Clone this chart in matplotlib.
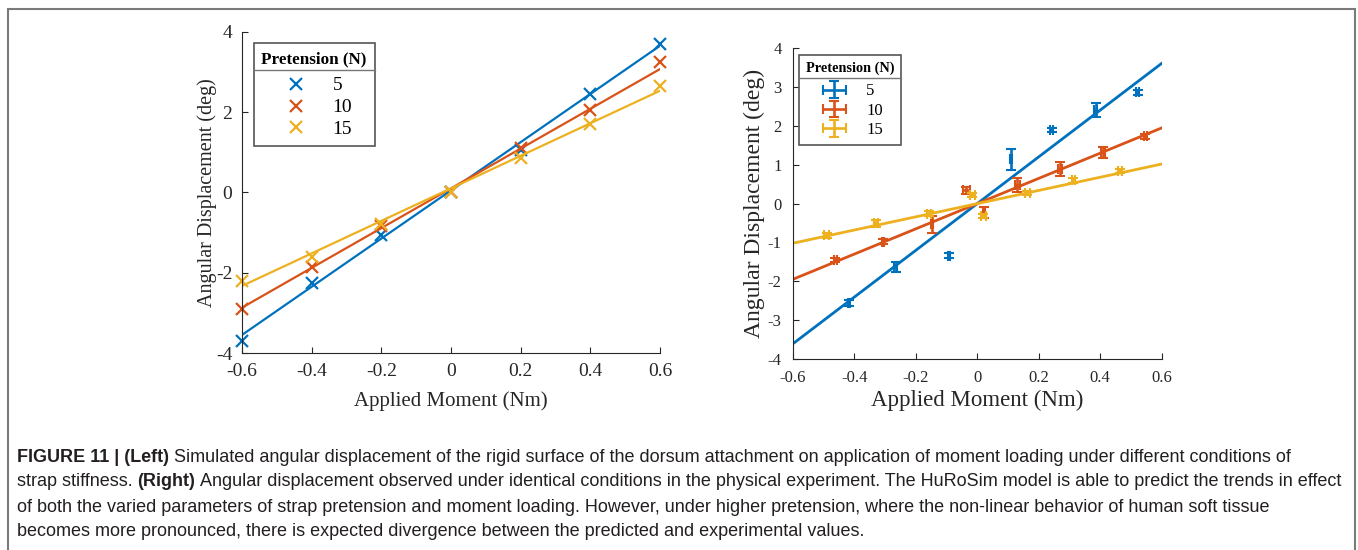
import numpy as np
import matplotlib
matplotlib.use('Agg')
import matplotlib.pyplot as plt
from matplotlib.lines import Line2D
from matplotlib.patches import Rectangle
from matplotlib.container import ErrorbarContainer
from matplotlib.legend_handler import HandlerErrorbar

# colours (MATLAB default order)
c_blue = '#0072BD'
c_red = '#D95319'
c_yel = '#EDB120'
colors = [c_blue, c_red, c_yel]
labels = ['5', '10', '15']

############## Left: simulated ################
x_sim = [-0.6, -0.4, -0.2, 0.0, 0.2, 0.4, 0.6]
y_sim_5 = [-3.7, -2.25, -1.05, 0.0, 1.05, 2.45, 3.7]
y_sim_10 = [-2.9, -1.85, -0.85, 0.0, 1.1, 2.05, 3.25]
y_sim_15 = [-2.2, -1.6, -0.8, 0.0, 0.85, 1.7, 2.65]
# fitted lines: slope, intercept
fit_sim_5 = (6.0, 0.05)
fit_sim_10 = (4.95, 0.1)
fit_sim_15 = (4.05, 0.1)

############## Right: experiment ################
x_exp_5 = [-0.417, -0.265, -0.092, 0.110, 0.242, 0.385, 0.522]
y_exp_5 = [-2.56, -1.63, -1.34, 1.14, 1.90, 2.41, 2.87]
ye_exp_5 = [0.08, 0.12, 0.07, 0.27, 0.05, 0.18, 0.06]
xe_exp_5 = [0.004, 0.004, 0.004, 0.003, 0.004, 0.004, 0.004]

x_exp_10 = [-0.461, -0.307, -0.148, -0.035, 0.023, 0.131, 0.270, 0.408, 0.546]
y_exp_10 = [-1.45, -0.98, -0.53, 0.34, -0.23, 0.48, 0.89, 1.32, 1.73]
ye_exp_10 = [0.05, 0.06, 0.22, 0.1, 0.15, 0.17, 0.17, 0.15, 0.06]
xe_exp_10 = [0.004, 0.004, 0.003, 0.012, 0.003, 0.008, 0.006, 0.006, 0.005]

x_exp_15 = [-0.489, -0.329, -0.157, -0.016, 0.020, 0.163, 0.313, 0.465]
y_exp_15 = [-0.82, -0.50, -0.26, 0.22, -0.31, 0.27, 0.60, 0.84]
ye_exp_15 = [0.07, 0.09, 0.07, 0.06, 0.05, 0.06, 0.06, 0.06]
xe_exp_15 = [0.008, 0.005, 0.006, 0.008, 0.008, 0.008, 0.006, 0.006]

fit_exp_5 = (6.02, 0.0)
fit_exp_10 = (3.25, 0.0)
fit_exp_15 = (1.70, 0.0)

xtick_vals = [-0.6, -0.4, -0.2, 0, 0.2, 0.4, 0.6]
xtick_labs = ['-0.6', '-0.4', '-0.2', '0', '0.2', '0.4', '0.6']

caption = [
    [("FIGURE 11 | (Left)", 'bold'), (" Simulated angular displacement of the rigid surface of the dorsum attachment on application of moment loading under different conditions of", 'normal')],
    [("strap stiffness. ", 'normal'), ("(Right)", 'bold'), (" Angular displacement observed under identical conditions in the physical experiment. The HuRoSim model is able to predict the trends in effect", 'normal')],
    [("of both the varied parameters of strap pretension and moment loading. However, under higher pretension, where the non-linear behavior of human soft tissue", 'normal')],
    [("becomes more pronounced, there is expected divergence between the predicted and experimental values.", 'normal')],
]

plt.rcParams['font.family'] = ['Liberation Serif', 'DejaVu Serif']
plt.rcParams['axes.linewidth'] = 0.8
plt.rcParams['axes.edgecolor'] = '#262626'
plt.rcParams['axes.unicode_minus'] = False

fig = plt.figure(figsize=(13.58, 5.5), dpi=100)

# outer frame
fig.patches.append(Rectangle((8/1358, -0.05), 1347/1358, 1.05 - 9/550, transform=fig.transFigure,
                             fill=False, edgecolor='#7a7a7a', linewidth=1.5))

ax1 = fig.add_axes([242/1358, 1-353/550, 418/1358, 321.3/550])
ax2 = fig.add_axes([792.7/1358, 1-359/550, 369/1358, 310.7/550])


def style_axes(ax, fs, pad):
    for s in ['top', 'right']:
        ax.spines[s].set_visible(False)
    ax.tick_params(direction='in', length=4, width=0.8, labelsize=fs, colors='#262626', pad=pad)
    ax.set_xlim(-0.6, 0.6)
    ax.set_ylim(-4, 4)
    ax.set_xticks(xtick_vals)
    ax.set_xticklabels(xtick_labs)


# left plot
xl = np.array([-0.6, 0.6])
for ys, fit, c, lab in zip([y_sim_5, y_sim_10, y_sim_15], [fit_sim_5, fit_sim_10, fit_sim_15], colors, labels):
    ax1.plot(xl, fit[0]*xl + fit[1], color=c, linewidth=1.6)
    ax1.plot(x_sim, ys, 'x', color=c, markersize=9, markeredgewidth=1.6, label=lab, clip_on=False)
style_axes(ax1, 14, 7)
ax1.set_yticks([-4, -2, 0, 2, 4])
ax1.set_yticklabels(['-4', '-2', '0', '2', '4'])
ax1.set_xlabel('Applied Moment (Nm)', fontsize=15, color='#262626', labelpad=8)
ax1.set_ylabel('Angular Displacement (deg)', fontsize=14.5, color='#262626', labelpad=-1)

# right plot
for xs, ys, xe, ye, fit, c, lab in zip([x_exp_5, x_exp_10, x_exp_15], [y_exp_5, y_exp_10, y_exp_15],
                                       [xe_exp_5, xe_exp_10, xe_exp_15], [ye_exp_5, ye_exp_10, ye_exp_15],
                                       [fit_exp_5, fit_exp_10, fit_exp_15], colors, labels):
    ax2.plot(xl, fit[0]*xl + fit[1], color=c, linewidth=2)
    ax2.errorbar(xs, ys, yerr=ye, xerr=xe, fmt='none', ecolor=c, elinewidth=1.9, capsize=3.6,
                 capthick=1.5, label=lab)
style_axes(ax2, 12, 8)
ax2.set_yticks(range(-4, 5))
ax2.set_yticklabels([str(v) for v in range(-4, 5)])
ax2.tick_params(axis='y', pad=8)
ax2.set_xlabel('Applied Moment (Nm)', fontsize=16.5, color='#262626', labelpad=3)
ax2.set_ylabel('Angular Displacement (deg)', fontsize=17, color='#262626', labelpad=2)


def make_legend(ax, fs, tfs, lsp, tpad, bap, hmap=None):
    h, l = ax.get_legend_handles_labels()
    leg = ax.legend(h, l, title='Pretension (N)', loc='upper left', fontsize=fs,
                    title_fontproperties={'weight': 'bold', 'size': tfs},
                    frameon=True, fancybox=False, edgecolor='#555555', framealpha=1,
                    borderpad=0.4, handlelength=2.0, handletextpad=0.9, labelspacing=lsp,
                    borderaxespad=bap, handler_map=hmap)
    leg.get_frame().set_linewidth(1.2)
    leg._legend_box.sep = tpad
    return leg


leg1 = make_legend(ax1, 14, 12.3, 0.22, 7, 0.6)
leg2 = make_legend(ax2, 12, 10.3, 0.2, 6, 0.4,
                   {ErrorbarContainer: HandlerErrorbar(xerr_size=0.7, yerr_size=0.5)})

# caption lines
cap_ax = fig.add_axes([0, 0, 1, 1], facecolor='none')
cap_ax.set_axis_off()
line_y = [457, 482, 507, 532]
for parts, yy in zip(caption, line_y):
    prev = None
    for txt, w in parts:
        if prev is None:
            prev = cap_ax.text(17/1358, 1 - yy/550, txt, fontsize=13, fontweight=w,
                               family=['Liberation Sans', 'DejaVu Sans'], va='center', ha='left',
                               color='#231f20', transform=fig.transFigure)
        else:
            prev = cap_ax.annotate(txt, xy=(1, 0.5), xycoords=prev, fontsize=13, fontweight=w,
                                   family=['Liberation Sans', 'DejaVu Sans'], va='center', ha='left',
                                   color='#231f20')

# separator line under legend titles
fig.canvas.draw()
inv = fig.transFigure.inverted()
for leg in [leg1, leg2]:
    fb = leg.get_frame().get_window_extent()
    tb = leg.get_title().get_window_extent()
    ysep = tb.y0 - 3
    (x0, y0) = inv.transform((fb.x0, ysep))
    (x1, _) = inv.transform((fb.x1, ysep))
    fig.add_artist(Line2D([x0, x1], [y0, y0], color='#777777', linewidth=1.0, transform=fig.transFigure))

fig.savefig('out.png', dpi=100)
